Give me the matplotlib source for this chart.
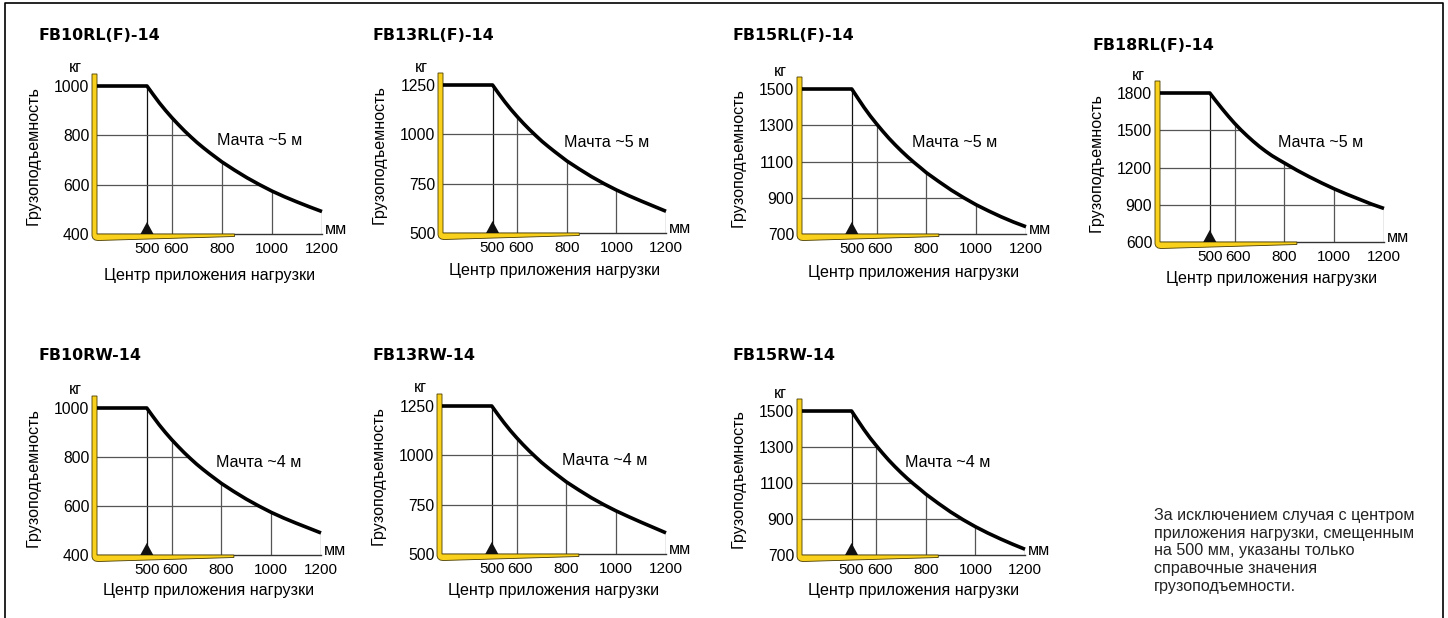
import matplotlib
matplotlib.use('Agg')
import matplotlib.pyplot as plt
from matplotlib.patches import Polygon
from matplotlib.lines import Line2D
from matplotlib.transforms import ScaledTranslation

plt.rcParams['font.family'] = ['Liberation Sans', 'DejaVu Sans']

W, H = 1448, 618

# load centre distances, mm
dist = [300, 500, 525, 550, 575, 600, 625, 650, 675, 700, 725, 750, 775, 800,
        850, 900, 950, 1000, 1050, 1100, 1150, 1200]
xticks = [500, 600, 800, 1000, 1200]

# capacity, kg
fb10rl = [1000, 1000, 965, 931, 900, 871, 844, 818, 794, 771, 750, 730, 711, 692,
          659, 628, 600, 574, 551, 530, 510, 491]
fb13rl = [1250, 1250, 1206, 1164, 1125, 1089, 1055, 1023, 993, 964, 938, 913, 889, 865,
          824, 785, 750, 718, 689, 662, 636, 610]
fb15rl = [1500, 1500, 1448, 1397, 1350, 1307, 1266, 1227, 1191, 1157, 1125, 1095, 1067, 1038,
          989, 942, 900, 861, 827, 795, 766, 740]
fb18rl = [1800, 1800, 1735, 1672, 1612, 1555, 1503, 1455, 1410, 1368, 1330, 1295, 1265, 1236,
          1178, 1125, 1075, 1028, 985, 945, 905, 870]
fb10rw = [1000, 1000, 965, 931, 900, 871, 844, 818, 794, 771, 750, 730, 711, 692,
          659, 628, 600, 574, 551, 530, 510, 490]
fb13rw = [1250, 1250, 1206, 1164, 1125, 1089, 1055, 1023, 993, 964, 938, 913, 889, 865,
          824, 785, 750, 718, 689, 661, 634, 607]
fb15rw = [1500, 1500, 1448, 1397, 1350, 1307, 1266, 1227, 1191, 1157, 1125, 1095, 1067, 1038,
          987, 939, 896, 857, 822, 790, 760, 732]

yt_1000 = [400, 600, 800, 1000]
yt_1250 = [500, 750, 1000, 1250]
yt_1500 = [700, 900, 1100, 1300, 1500]
yt_1800 = [600, 900, 1200, 1500, 1800]

titles = ['FB10RL(F)-14', 'FB13RL(F)-14', 'FB15RL(F)-14', 'FB18RL(F)-14',
          'FB10RW-14', 'FB13RW-14', 'FB15RW-14']
masts = ['Мачта ~5 м'] * 4 + ['Мачта ~4 м'] * 3
series = [fb10rl, fb13rl, fb15rl, fb18rl, fb10rw, fb13rw, fb15rw]
yticks_all = [yt_1000, yt_1250, yt_1500, yt_1800, yt_1000, yt_1250, yt_1500]

note = ('За исключением случая с центром\nприложения нагрузки, смещенным\n'
        'на 500 мм, указаны только\nсправочные значения\nгрузоподъемности.')

# layout in pixels: axis left, right, top, bottom, title x, title y, xlabel gap, mast x (mm), mast y (frac)
layout = [
    (97, 322, 86, 234, 38, 35, 41, 780, 0.63),
    (443, 666, 85, 233, 373, 35, 37, 788, 0.61),
    (802, 1026, 89, 234, 733, 35, 38, 742, 0.63),
    (1160, 1384, 93, 242, 1093, 46, 36, 774, 0.67),
    (97, 321, 408, 555, 38, 356, 35, 780, 0.63),
    (442, 666, 406, 554, 373, 356, 36, 782, 0.63),
    (802, 1025, 411, 555, 733, 356, 35, 716, 0.64),
]

YELLOW = '#F9D01B'
FS = 11.6


def draw_chart(fig, box, title, yticks, values, mast):
    x0, x1, ytop, ybot, tx, ty, xlab_gap, mx, my = box
    wpx = x1 - x0
    hpx = ybot - ytop
    ax = fig.add_axes([x0 / W, 1 - ybot / H, wpx / W, hpx / H])
    ymin, ymax = yticks[0], yticks[-1]
    ax.set_xlim(300, 1200)
    ax.set_ylim(ymin, ymax)
    ax.patch.set_alpha(0)
    for s in ax.spines.values():
        s.set_visible(False)
    ax.set_xticks(xticks)
    ax.set_yticks(yticks)
    ax.tick_params(axis='x', length=0, labelsize=11, pad=5.5)
    ax.tick_params(axis='y', length=0, labelsize=11.3, pad=5.5)
    # the 600 label sits a little to the right so it clears 500
    lab = ax.xaxis.get_major_ticks()[1].label1
    lab.set_transform(lab.get_transform() + ScaledTranslation(0.035, 0, fig.dpi_scale_trans))

    # grid only under the curve
    under = Polygon(list(zip(dist, values)) + [(1206, values[-1]), (1206, ymin), (300, ymin)],
                    closed=True, transform=ax.transData, facecolor='none', edgecolor='none')
    ax.add_patch(under)
    for xv in xticks:
        c = '#111111' if xv == 500 else '#555555'
        ln = ax.axvline(xv, color=c, lw=0.9, zorder=1)
        ln.set_clip_path(under)
    for yv in yticks[1:]:
        ln = ax.axhline(yv, color='#555555', lw=0.9, zorder=1)
        ln.set_clip_path(under)

    ax.plot([300, 1200], [ymin, ymin], color='#333333', lw=1.0, clip_on=False, zorder=2)
    ax.plot(dist, values, color='black', lw=2.6, solid_capstyle='butt',
            solid_joinstyle='round', clip_on=False, zorder=5)

    # fork (pixel offsets from axis origin -> axes fraction)
    blade = (850 - 300) / 900 * wpx
    fork_px = [(0, hpx + 12), (-5, hpx + 12), (-5, -2), (-4, -4.5), (-2, -6), (1, -6.5),
               (blade, -2.5), (blade, 0), (0, 0)]
    fork = Polygon([(px / wpx, py / hpx) for px, py in fork_px], closed=True,
                   transform=ax.transAxes, facecolor=YELLOW, edgecolor='#4a3d00',
                   lw=0.6, clip_on=False, zorder=4)
    ax.add_patch(fork)

    # load centre marker
    xc = (500 - 300) / 900
    tri = Polygon([(xc - 6.5 / wpx, 0), (xc + 6.5 / wpx, 0), (xc, 12 / hpx)], closed=True,
                  transform=ax.transAxes, facecolor='#111111', edgecolor='none',
                  clip_on=False, zorder=6)
    ax.add_patch(tri)

    ax.text(-22 / wpx, 1 + 18 / hpx, 'кг', transform=ax.transAxes, fontsize=FS,
            ha='center', va='center')
    ax.text(1 + 3 / wpx, 0, 'мм', transform=ax.transAxes, fontsize=FS,
            ha='left', va='baseline')
    ax.text(-64 / wpx, 0.53, 'Грузоподъемность', transform=ax.transAxes, fontsize=FS,
            rotation=90, ha='center', va='center')
    ax.text(0.5, -xlab_gap / hpx, 'Центр приложения нагрузки', transform=ax.transAxes,
            fontsize=FS, ha='center', va='center')
    ax.text((mx - 300) / 900, my, mast, transform=ax.transAxes, fontsize=FS,
            ha='left', va='center')
    fig.text(tx / W, 1 - ty / H, title, fontsize=11.4, fontweight='bold',
             family='DejaVu Sans', ha='left', va='center')


def main():
    fig = plt.figure(figsize=(W / 100, H / 100), dpi=100)
    bg = fig.add_axes([0, 0, 1, 1])
    bg.set_xlim(0, W)
    bg.set_ylim(H, 0)
    bg.axis('off')
    bg.add_line(Line2D([5, 5, 1443, 1443], [H, 3, 3, H], color='black', lw=1.2))
    bg.text(1154, 508, note, fontsize=FS, ha='left', va='top', linespacing=1.22, color='#222222')

    for box, title, yt, vals, mast in zip(layout, titles, yticks_all, series, masts):
        draw_chart(fig, box, title, yt, vals, mast)

    fig.savefig('out.png', dpi=100)


if __name__ == "__main__":
    main()
